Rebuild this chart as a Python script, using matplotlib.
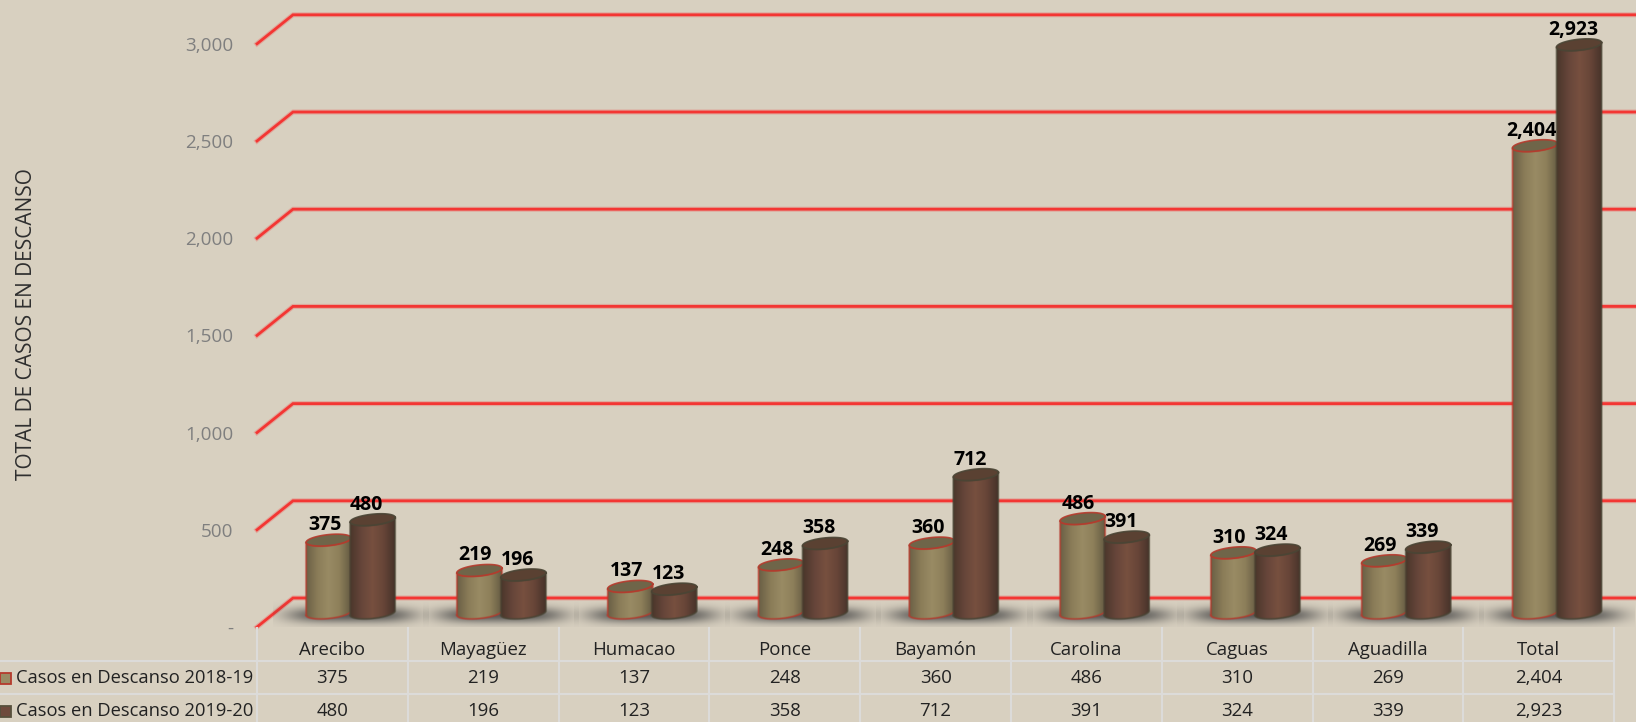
import numpy as np
import matplotlib
matplotlib.use("Agg")
import matplotlib.pyplot as plt
from matplotlib.colors import LinearSegmentedColormap
from matplotlib.patches import PathPatch, Rectangle
from matplotlib.path import Path

plt.rcParams["font.family"] = ["Open Sans", "DejaVu Sans"]

categories = ["Arecibo", "Mayagüez", "Humacao", "Ponce", "Bayamón",
              "Carolina", "Caguas", "Aguadilla", "Total"]
casos_2018 = [375, 219, 137, 248, 360, 486, 310, 269, 2404]
casos_2019 = [480, 196, 123, 358, 712, 391, 324, 339, 2923]
series_names = ["Casos en Descanso 2018-19", "Casos en Descanso 2019-20"]
y_ticks = [0, 500, 1000, 1500, 2000, 2500, 3000]

BG = "#d8d0c0"
RED = "#f5302e"
TABLE_LINE = "#dcdbd9"
W, H = 1636, 722

# one category = 150.8 px, 500 cases = 97.2 px
PX = 1 / 150.8
PY = 500 / 97.2
LEFT, ZERO = 257, 627


def y_px(py):
    return (ZERO - py) * PY


def cylinder(ax, xc, val, cmap, top_col, edge_col, z):
    a, b, k = 22.5 * PX, 5.5 * PY, 0.1 * PY / PX
    base = y_px(613)
    top = base + val
    t = np.linspace(0, 2 * np.pi, 80)
    ex = a * np.cos(t)
    ey = b * np.sin(t) + k * ex

    # body outline: lower half of the base ellipse up to lower half of the top one
    t_low = np.linspace(np.pi, 2 * np.pi, 40)
    lx = xc + a * np.cos(t_low)
    ly_base = base + b * np.sin(t_low) + k * a * np.cos(t_low)
    ly_top = top + b * np.sin(t_low) + k * a * np.cos(t_low)
    body_x = np.r_[lx, lx[::-1], lx[0]]
    body_y = np.r_[ly_base, ly_top[::-1], ly_base[0]]
    body = Path(np.c_[body_x, body_y])

    im = ax.imshow(np.linspace(0, 1, 64)[None, :], cmap=cmap, aspect="auto",
                   extent=(xc - a, xc + a, base - 2 * b, top + 2 * b),
                   origin="lower", interpolation="bilinear", zorder=z)
    im.set_clip_path(PathPatch(body, transform=ax.transData))
    ax.plot(body_x, body_y, color=edge_col, lw=1.8, alpha=0.3, zorder=z + 0.1)
    ax.plot(body_x, body_y, color=edge_col, lw=0.9, alpha=0.7, zorder=z + 0.1)
    ax.fill(xc + ex, top + ey, color=top_col, zorder=z + 0.2, lw=0)
    ax.plot(xc + ex, top + ey, color=edge_col, lw=1.2, alpha=0.9, zorder=z + 0.3)


tan_map = LinearSegmentedColormap.from_list(
    "tan", ["#6b6046", "#8a7c58", "#998b64", "#8d7f5a", "#665c43"])
brown_map = LinearSegmentedColormap.from_list(
    "brown", ["#4b372b", "#66453a", "#77503f", "#674538", "#47332a"])

fig = plt.figure(figsize=(W / 100, H / 100), dpi=100, facecolor=BG)
ax = fig.add_axes([LEFT / W, (H - ZERO) / H, (W - LEFT) / W, ZERO / H])
ax.set_facecolor(BG)
for s in ax.spines.values():
    s.set_visible(False)

x_max = (W - LEFT) * PX
y_max = ZERO * PY

# red gridlines with the oblique floor segment on the left
for v in y_ticks:
    gx, gy = [0, 36 * PX, x_max], [v, v + 29 * PY, v + 29 * PY]
    ax.plot(gx, gy, color=RED, lw=3.6, alpha=0.25, zorder=1, clip_on=False)
    ax.plot(gx, gy, color=RED, lw=2.0, alpha=0.95, zorder=1, clip_on=False,
            solid_joinstyle="miter")

# soft shadow on the floor
yy, xx = np.mgrid[-1:1:40j, -1:1:160j]
shadow = np.zeros((40, 160, 4))
shadow[..., :3] = 0.27
shadow[..., 3] = 0.85 * np.exp(-(xx / 0.82) ** 4 - (yy / 0.5) ** 2)

x_tan = np.arange(len(categories)) + 0.475
x_brown = np.arange(len(categories)) + 0.767
for i in range(len(categories)):
    xm = (x_tan[i] + x_brown[i]) / 2
    ax.imshow(shadow, aspect="auto", origin="lower", zorder=2,
              extent=(xm - 78 * PX, xm + 78 * PX, y_px(631), y_px(599)),
              interpolation="bilinear")
    cylinder(ax, x_tan[i], casos_2018[i], tan_map, "#6f6549", "#b53a2c", 3)
    cylinder(ax, x_brown[i], casos_2019[i], brown_map, "#5a4132", "#4a4434", 4)

for x, vals, shift in ((x_tan, casos_2018, -4), (x_brown, casos_2019, -6)):
    for xi, v in zip(x, vals):
        ax.text(xi + shift * PX, v + y_px(613) + 15 * PY, f"{v:,}", ha="center",
                va="center", fontsize=14, fontweight="bold", color="black",
                zorder=10)

ax.set_xlim(0, x_max)
ax.set_ylim(0, y_max)
ax.set_xticks([])
ax.set_yticks(y_ticks)
ax.set_yticklabels(["-" if v == 0 else f"{v:,}" for v in y_ticks],
                   fontsize=13.6, color="#7f7f7f")
ax.tick_params(axis="y", length=0, pad=17)

fig.text(27 / W, 1 - 324 / H, "TOTAL DE CASOS EN DESCANSO", rotation=90,
         ha="center", va="center", fontsize=15, color="#2f2f2f")

# data table below the plot
n = len(categories)
for i in range(n + 1):
    ax.plot([i, i], [y_px(628), y_px(722)], color=TABLE_LINE, lw=1.5,
            clip_on=False, zorder=1)
for py in (660.5, 694):
    ax.plot([-LEFT * PX, n], [y_px(py), y_px(py)], color=TABLE_LINE, lw=1.5,
            clip_on=False, zorder=1)

row_y = [y_px(650), y_px(678), y_px(711)]
for i in range(n):
    ax.text(i + 0.5, row_y[0], categories[i], ha="center", va="center",
            fontsize=13.4, color="#222222")
    ax.text(i + 0.5, row_y[1], f"{casos_2018[i]:,}", ha="center", va="center",
            fontsize=13.4, color="#222222")
    ax.text(i + 0.5, row_y[2], f"{casos_2019[i]:,}", ha="center", va="center",
            fontsize=13.4, color="#222222")

keys = [("#998b64", "#b53a2c"), ("#6e4a3c", "#57503c")]
for name, ry, (fc, ec) in zip(series_names, row_y[1:], keys):
    ax.add_patch(Rectangle((-LEFT * PX, ry - 5.5 * PY), 11 * PX, 11 * PY,
                           facecolor=fc, edgecolor=ec, lw=1.3, clip_on=False))
    ax.text((16 - LEFT) * PX, ry, name, ha="left", va="center", fontsize=13.2,
            color="#222222")

fig.savefig("out.png", dpi=100, facecolor=BG)
